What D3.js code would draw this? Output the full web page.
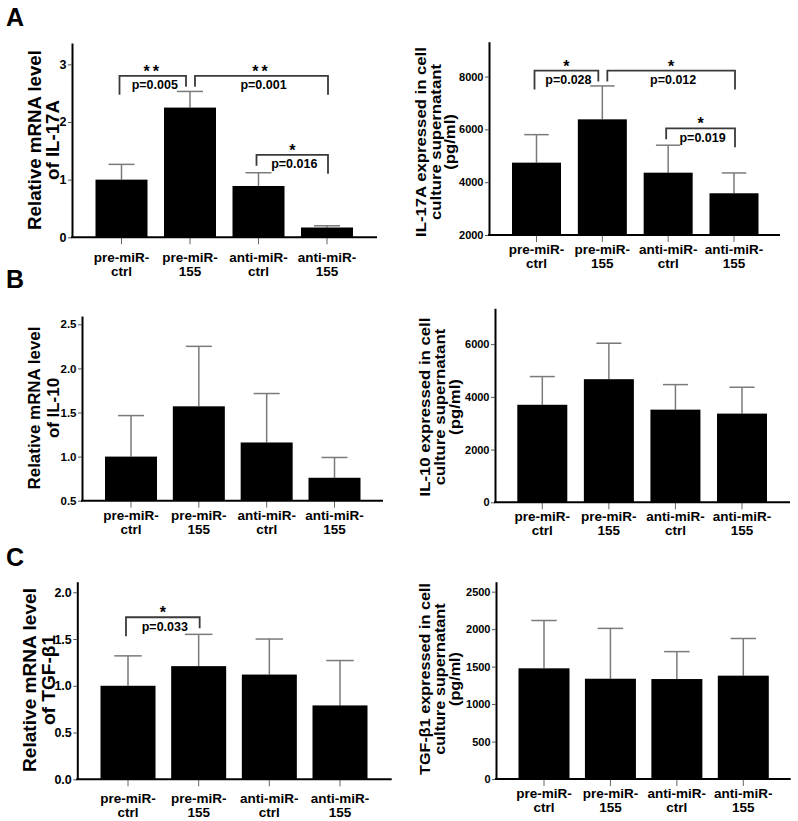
<!DOCTYPE html>
<html>
<head>
<meta charset="utf-8">
<script src="https://cdn.jsdelivr.net/npm/d3@7"></script>
<style>
  html, body { margin: 0; padding: 0; background: #fff; }
  svg text { font-family: "Liberation Sans", Arial, Helvetica, sans-serif; font-weight: bold; fill: #000; }
</style>
</head>
<body>
<svg id="chart" width="798" height="821"></svg>
<script>
// ---------------- DATA ----------------
const categories = ["pre-miR-ctrl", "pre-miR-155", "anti-miR-ctrl", "anti-miR-155"];
const categoryLines = [["pre-miR-", "ctrl"], ["pre-miR-", "155"], ["anti-miR-", "ctrl"], ["anti-miR-", "155"]];

// A: IL-17A
const il17aMrnaMean = [1.0, 2.25, 0.89, 0.17];
const il17aMrnaSD   = [0.265, 0.28, 0.23, 0.03];
const il17aProtMean = [4740, 6380, 4360, 3580];
const il17aProtSD   = [1060, 1265, 1040, 770];
// B: IL-10
const il10MrnaMean = [1.0, 1.57, 1.16, 0.76];
const il10MrnaSD   = [0.465, 0.68, 0.555, 0.23];
const il10ProtMean = [3700, 4670, 3515, 3365];
const il10ProtSD   = [1070, 1365, 950, 1000];
// C: TGF-β1
const tgfMrnaMean = [1.0, 1.21, 1.12, 0.79];
const tgfMrnaSD   = [0.32, 0.34, 0.38, 0.48];
const tgfProtMean = [1477, 1338, 1334, 1379];
const tgfProtSD   = [638, 672, 366, 496];

// tick values
const ticksIl17aMrna = [0, 1, 2, 3];
const ticksIl17aProt = [2000, 4000, 6000, 8000];
const ticksIl10Mrna  = [0.5, 1.0, 1.5, 2.0, 2.5];
const ticksIl10Prot  = [0, 2000, 4000, 6000];
const ticksTgfMrna   = [0.0, 0.5, 1.0, 1.5, 2.0];
const ticksTgfProt   = [0, 500, 1000, 1500, 2000, 2500];

// y-axis titles
const titleIl17aMrna = ["Relative mRNA level", "of IL-17A"];
const titleIl17aProt = ["IL-17A expressed in cell", "culture supernatant", "(pg/ml)"];
const titleIl10Mrna  = ["Relative mRNA level", "of IL-10"];
const titleIl10Prot  = ["IL-10 expressed in cell", "culture supernatant", "(pg/ml)"];
const titleTgfMrna   = ["Relative mRNA level", "of TGF-β1"];
const titleTgfProt   = ["TGF-β1 expressed in cell", "culture supernatant", "(pg/ml)"];

// significance brackets (category indices, bracket height in data units)
const sigIl17aMrna = [
  {from: 0, to: 1, y: 2.8,  stars: "**", p: "p=0.005"},
  {from: 1, to: 3, y: 2.8,  stars: "**", p: "p=0.001"},
  {from: 2, to: 3, y: 1.43, stars: "*",  p: "p=0.016"}
];
const sigIl17aProt = [
  {from: 0, to: 1, y: 8225, stars: "*", p: "p=0.028"},
  {from: 1, to: 3, y: 8225, stars: "*", p: "p=0.012"},
  {from: 2, to: 3, y: 6040, stars: "*", p: "p=0.019"}
];
const sigTgfMrna = [
  {from: 0, to: 1, y: 1.733, stars: "*", p: "p=0.033"}
];

// ---------------- LAYOUT ----------------
const panels = [
  {letter: "A", letterY: 26, mean: il17aMrnaMean, sd: il17aMrnaSD, ticks: ticksIl17aMrna, fmt: d3.format("d"),
   domain: [0, 3.37], axisX: 72, axisR: 377, top: 43, bottom: 237.3, c0: 121.5, c3: 327, bw: 52,
   title: titleIl17aMrna, titleX: [40.5, 59.3], titleY: 140, titleLen: 180, titleSize: 18, tickFont: 12.5,
   lab1: 24.5, sig: sigIl17aMrna},
  {mean: il17aProtMean, sd: il17aProtSD, ticks: ticksIl17aProt, fmt: d3.format("d"),
   domain: [2000, 9320], axisX: 489, axisR: 780, top: 41.7, bottom: 235, c0: 536.5, c3: 734, bw: 49,
   title: titleIl17aProt, titleX: [426, 440.7, 455], titleY: 142, titleLen: 190, titleSize: 14, tickFont: 11,
   lab1: 19.3, sig: sigIl17aProt},
  {letter: "B", letterY: 288, mean: il10MrnaMean, sd: il10MrnaSD, ticks: ticksIl10Mrna, fmt: d3.format(".1f"),
   domain: [0.5, 2.594], axisX: 82, axisR: 383, top: 316, bottom: 500.7, c0: 131, c3: 334.5, bw: 52,
   title: titleIl10Mrna, titleX: [40, 59], titleY: 408, titleLen: 163, titleSize: 16.5, tickFont: 11.5,
   lab1: 19.3, sig: []},
  {mean: il10ProtMean, sd: il10ProtSD, ticks: ticksIl10Prot, fmt: d3.format("d"),
   domain: [0, 7360], axisX: 495, axisR: 790, top: 308.3, bottom: 502.3, c0: 542.3, c3: 742, bw: 50,
   title: titleIl10Prot, titleX: [430, 445, 460], titleY: 407, titleLen: 179, titleSize: 14, tickFont: 11,
   lab1: 18.8, sig: []},
  {letter: "C", letterY: 566, mean: tgfMrnaMean, sd: tgfMrnaSD, ticks: ticksTgfMrna, fmt: d3.format(".1f"),
   domain: [0, 2.113], axisX: 77.3, axisR: 391.7, top: 581.7, bottom: 779.3, c0: 128, c3: 340, bw: 55,
   title: titleTgfMrna, titleX: [36, 55], titleY: 680, titleLen: 184, titleSize: 18, tickFont: 12.5,
   lab1: 23.4, sig: sigTgfMrna},
  {mean: tgfProtMean, sd: tgfProtSD, ticks: ticksTgfProt, fmt: d3.format("d"),
   domain: [0, 2633], axisX: 496, axisR: 790.7, top: 581.7, bottom: 779, c0: 544, c3: 743.3, bw: 51,
   title: titleTgfProt, titleX: [430, 445, 460], titleY: 679, titleLen: 192, titleSize: 14, tickFont: 11,
   lab1: 19.3, sig: []}
];

const svg = d3.select("#chart");
const ERR_COLOR = "#7a7a7a";
const BRACKET_COLOR = "#3a3a3a";
const LABEL_LINE_GAP = 14;

function drawPanel(cfg) {
  const g = svg.append("g");
  const step = (cfg.c3 - cfg.c0) / (categories.length - 1);
  const pad = 1 - cfg.bw / step;
  const x = d3.scaleBand().domain(categories)
    .range([cfg.c0 - step / 2, cfg.c3 + step / 2])
    .paddingInner(pad).paddingOuter(pad / 2);
  const y = d3.scaleLinear().domain(cfg.domain).range([cfg.bottom, cfg.top]);
  const cx = c => x(c) + x.bandwidth() / 2;

  const rows = categories.map((c, i) => ({cat: c, mean: cfg.mean[i], sd: cfg.sd[i], lines: categoryLines[i]}));

  // error bars (upper only)
  const eb = g.append("g").attr("stroke", ERR_COLOR).attr("stroke-width", 1.5).attr("fill", "none");
  eb.selectAll("line.v").data(rows).join("line")
    .attr("x1", d => cx(d.cat)).attr("x2", d => cx(d.cat))
    .attr("y1", d => y(d.mean)).attr("y2", d => y(d.mean + d.sd));
  eb.selectAll("line.cap").data(rows).join("line")
    .attr("x1", d => cx(d.cat) - x.bandwidth() / 4).attr("x2", d => cx(d.cat) + x.bandwidth() / 4)
    .attr("y1", d => y(d.mean + d.sd)).attr("y2", d => y(d.mean + d.sd));

  // bars
  g.append("g").selectAll("rect").data(rows).join("rect")
    .attr("x", d => x(d.cat)).attr("width", x.bandwidth())
    .attr("y", d => y(d.mean)).attr("height", d => y(cfg.domain[0]) - y(d.mean))
    .attr("fill", "#000");

  // y axis
  const ya = g.append("g").attr("transform", `translate(${cfg.axisX},0)`)
    .call(d3.axisLeft(y).tickValues(cfg.ticks).tickFormat(cfg.fmt).tickSize(4).tickSizeOuter(0).tickPadding(1.5));
  ya.attr("font-family", null).attr("font-size", null);
  ya.select(".domain").attr("stroke", "#000").attr("stroke-width", 2);
  ya.selectAll(".tick line").attr("stroke", "#555").attr("stroke-width", 1);
  ya.selectAll(".tick text").style("font-size", cfg.tickFont + "px").attr("fill", "#000");

  // x axis
  const xa = g.append("g").attr("transform", `translate(0,${cfg.bottom})`)
    .call(d3.axisBottom(x).tickSize(7).tickSizeOuter(0).tickFormat(""));
  xa.select(".domain").remove();
  xa.selectAll(".tick line").attr("stroke", "#666").attr("stroke-width", 1);
  g.append("line").attr("x1", cfg.axisX - 1).attr("x2", cfg.axisR)
    .attr("y1", cfg.bottom).attr("y2", cfg.bottom).attr("stroke", "#000").attr("stroke-width", 2);

  // category labels (two lines)
  const lab = g.append("g").selectAll("text").data(rows).join("text")
    .attr("text-anchor", "middle").style("font-size", "13.5px")
    .attr("transform", d => `translate(${cx(d.cat)},${cfg.bottom})`);
  lab.append("tspan").attr("x", 0).attr("y", cfg.lab1).text(d => d.lines[0]);
  lab.append("tspan").attr("x", 0).attr("y", cfg.lab1 + LABEL_LINE_GAP).text(d => d.lines[1]);

  // y-axis title (rotated, stretched to reference length)
  const tEls = cfg.title.map(t => g.append("text")
    .attr("text-anchor", "middle").style("font-size", cfg.titleSize + "px").text(t));
  const natural = tEls[0].node().getComputedTextLength();
  const f = cfg.titleLen / natural;
  tEls.forEach((el, i) => el.attr("transform",
    `translate(${cfg.titleX[i]},${cfg.titleY}) rotate(-90) scale(${f},1)`));

  // significance brackets
  const sg = g.append("g");
  cfg.sig.forEach(s => {
    let xl = cx(categories[s.from]) - 2;
    let xr = cx(categories[s.to]) + 1;
    if (cfg.sig.some(o => o.from === s.to && o.y === s.y)) xr = cx(categories[s.to]) - 4;
    if (cfg.sig.some(o => o.to === s.from && o.y === s.y)) xl = cx(categories[s.from]) + 5;
    const yt = y(s.y);
    const leftHigh = cfg.mean[s.from] > cfg.mean[s.to];
    const longLeg = 19, shortLeg = 11;
    const yl = yt + (leftHigh ? shortLeg : longLeg);
    const yr = yt + (leftHigh ? longLeg : shortLeg);
    sg.append("path")
      .attr("d", `M${xl},${yl}V${yt}H${xr}V${yr}`)
      .attr("fill", "none").attr("stroke", BRACKET_COLOR).attr("stroke-width", 1.8);
    const mid = (xl + xr) / 2;
    sg.append("text").attr("x", mid).attr("y", yt + 1)
      .attr("text-anchor", "middle").style("font-size", "16px")
      .style("letter-spacing", s.stars.length > 1 ? "3px" : "0px")
      .text(s.stars);
    sg.append("text").attr("x", mid + 2).attr("y", yt + 13.5)
      .attr("text-anchor", "middle").style("font-size", "12.5px").text(s.p);
  });

  if (cfg.letter) {
    svg.append("text").attr("x", 6).attr("y", cfg.letterY)
      .style("font-size", "25px").text(cfg.letter);
  }
}

panels.forEach(drawPanel);
</script>
</body>
</html>
